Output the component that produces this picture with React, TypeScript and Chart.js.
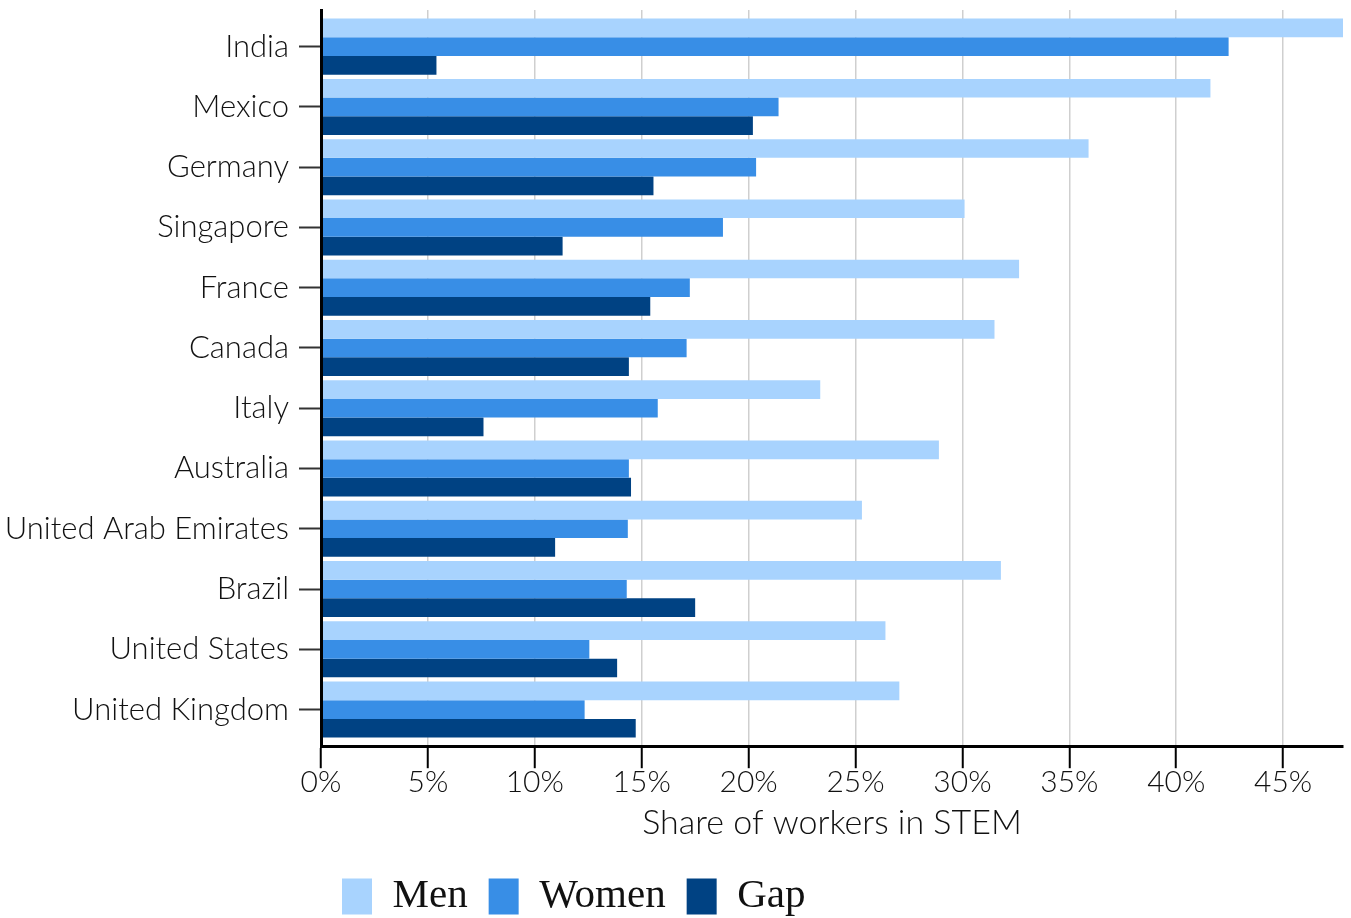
import React, { useEffect, useRef } from "react";
import { Chart, registerables } from "chart.js";

Chart.register(...registerables);

// Share of workers in STEM, by country and gender (percent)
const countries = [
  "India",
  "Mexico",
  "Germany",
  "Singapore",
  "France",
  "Canada",
  "Italy",
  "Australia",
  "United Arab Emirates",
  "Brazil",
  "United States",
  "United Kingdom",
];
const menShare = [47.8, 41.6, 35.9, 30.1, 32.65, 31.5, 23.35, 28.9, 25.3, 31.8, 26.4, 27.05];
const womenShare = [42.45, 21.4, 20.35, 18.8, 17.25, 17.1, 15.75, 14.4, 14.35, 14.3, 12.55, 12.33];
const gapShare = [5.4, 20.2, 15.55, 11.3, 15.4, 14.4, 7.6, 14.5, 10.95, 17.5, 13.85, 14.72];
const seriesNames = ["Men", "Women", "Gap"];
const xTickStep = 5;

const COLORS = ["#a8d3fe", "#388ee6", "#004283"];
const SANS = "Lato, 'Open Sans', sans-serif";
const WIDTH = 1351;
const HEIGHT = 927;
// extra room above the first and below the last category, in category units
const CATEGORY_PAD = 0.108;

export default function App() {
  const canvasRef = useRef<HTMLCanvasElement | null>(null);

  useEffect(() => {
    const canvas = canvasRef.current;
    if (!canvas) return;
    const chart = new Chart(canvas, {
      type: "bar",
      data: {
        labels: countries,
        datasets: [menShare, womenShare, gapShare].map((values, i) => ({
          label: seriesNames[i],
          data: values,
          backgroundColor: COLORS[i],
          borderWidth: 0,
          categoryPercentage: 0.93,
          barPercentage: 1,
        })),
      },
      options: {
        indexAxis: "y",
        responsive: false,
        animation: false,
        devicePixelRatio: 1,
        layout: { padding: { left: 0, right: 8, top: 10, bottom: 0 } },
        plugins: {
          tooltip: { enabled: false },
          legend: {
            position: "bottom",
            align: "start",
            fullSize: false,
            labels: {
              boxWidth: 30,
              boxHeight: 36,
              padding: 21,
              color: "#111",
              font: { family: "'Liberation Serif', 'Times New Roman', serif", size: 41 },
            },
          },
        },
        scales: {
          x: {
            type: "linear",
            min: 0,
            max: Math.max(...menShare),
            border: { color: "#000", width: 3, z: 1 },
            grid: {
              color: "#cfcfcf",
              lineWidth: 1.5,
              tickColor: "#000",
              tickWidth: 2,
              tickLength: 22,
            },
            ticks: {
              stepSize: xTickStep,
              includeBounds: false,
              padding: -4,
              color: "#111",
              font: { family: SANS, size: 30, weight: "300" },
              callback: (v: any) => `${v}%`,
            },
            title: {
              display: true,
              text: "Share of workers in STEM",
              color: "#111",
              font: { family: SANS, size: 34, weight: "300" },
              padding: { top: 6, bottom: 12 },
            },
          },
          y: {
            type: "category",
            offset: true,
            border: { color: "#000", width: 3, z: 1 },
            grid: {
              drawOnChartArea: false,
              offset: false,
              tickColor: "#333",
              tickWidth: 2,
              tickLength: 22,
            },
            ticks: {
              padding: 10,
              color: "#111",
              font: { family: SANS, size: 31, weight: "300" },
            },
            afterBuildTicks: (scale: any) => {
              scale._startValue -= CATEGORY_PAD;
              scale._valueRange += 2 * CATEGORY_PAD;
            },
            afterFit: (scale: any) => {
              scale.width = 321;
              scale.paddingTop = 0;
              scale.paddingBottom = 0;
            },
          },
        },
      },
    });
    return () => chart.destroy();
  }, []);

  return (
    <div style={{ position: "fixed", left: 0, top: 0, width: WIDTH, height: HEIGHT, background: "#fff" }}>
      <canvas ref={canvasRef} width={WIDTH} height={HEIGHT} style={{ display: "block" }} />
    </div>
  );
}
